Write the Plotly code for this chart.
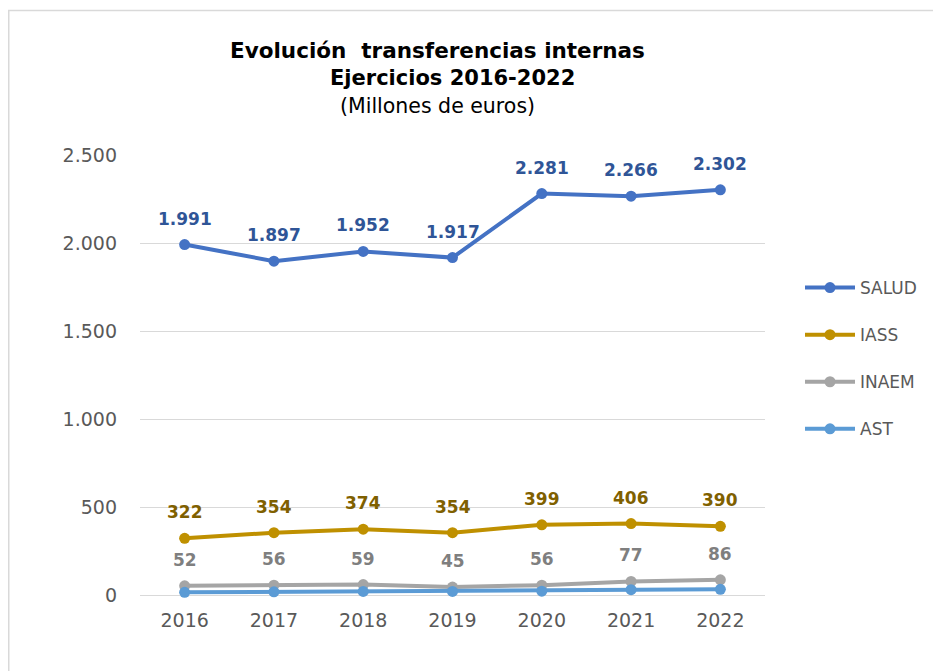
import plotly.graph_objects as go

years = ["2016", "2017", "2018", "2019", "2020", "2021", "2022"]
salud = [1991, 1897, 1952, 1917, 2281, 2266, 2302]
iass = [322, 354, 374, 354, 399, 406, 390]
inaem = [52, 56, 59, 45, 56, 77, 86]
ast = [15, 18, 20, 20, 22, 30, 32]

series = [
    ("SALUD", salud, "#4472C4", "#2F5597", True),
    ("IASS", iass, "#BF9000", "#7F6000", True),
    ("INAEM", inaem, "#A5A5A5", "#7F7F7F", True),
    ("AST", ast, "#5B9BD5", "#41719C", False),
]

FONT = "DejaVu Sans"
GRAY = "#595959"

# page has an 8px body margin; figure is sized so that page coords match the reference
W, H = 933, 663
L, T, R, B = 132, 147, 176, 76
pw, ph = W - L - R, H - T - B


def px(xp):  # reference page x -> paper x
    return (xp - 8 - L) / pw


def py(yp):  # reference page y -> paper y
    return (H - B - (yp - 8)) / ph


fig = go.Figure()
annotations = []
for name, vals, col, lcol, lab in series:
    fig.add_trace(go.Scatter(
        x=years, y=vals, name=name, mode="lines+markers",
        line=dict(color=col, width=4), marker=dict(color=col, size=11),
        legendgroup=name, cliponaxis=False,
    ))
    if lab:
        for i, yv in enumerate(vals):
            annotations.append(dict(
                x=i, y=yv, xref="x", yref="y",
                text="<b>%s</b>" % f"{yv:,}".replace(",", "."),
                showarrow=False, yshift=26, yanchor="middle",
                font=dict(family=FONT, size=17, color=lcol),
            ))

annotations += [
    dict(x=px(437), y=py(50), xref="paper", yref="paper", xanchor="center", yanchor="middle",
         text="<b>Evolución&nbsp; transferencias internas</b>",
         showarrow=False, font=dict(family=FONT, size=21.5, color="#000000")),
    dict(x=px(452), y=py(78), xref="paper", yref="paper", xanchor="center", yanchor="middle",
         text="<b>Ejercicios 2016-2022</b>",
         showarrow=False, font=dict(family=FONT, size=21, color="#000000")),
    dict(x=px(437), y=py(106), xref="paper", yref="paper", xanchor="center", yanchor="middle",
         text="(Millones de euros)",
         showarrow=False, font=dict(family=FONT, size=20.5, color="#000000")),
]

fig.update_layout(
    width=W, height=H,
    margin=dict(l=L, r=R, t=T, b=B),
    paper_bgcolor="white", plot_bgcolor="white",
    separators=",.",
    font=dict(family=FONT, color=GRAY, size=18),
    xaxis=dict(type="category", range=[-0.5, 6.5], showgrid=False, showline=False, ticks="",
               tickfont=dict(size=19, color=GRAY), ticklabelstandoff=12),
    yaxis=dict(range=[0, 2500], dtick=500, tickformat=",d", showgrid=True, gridcolor="#D9D9D9",
               gridwidth=1, zeroline=True, zerolinecolor="#D9D9D9", zerolinewidth=1,
               ticks="", tickfont=dict(size=19, color=GRAY), ticklabelstandoff=22),
    legend=dict(x=px(800), y=py(270), xanchor="left", yanchor="top", traceorder="grouped",
                tracegroupgap=22, font=dict(size=17, color=GRAY), itemwidth=50,
                bgcolor="rgba(0,0,0,0)"),
    showlegend=True,
    annotations=annotations,
)

fig.add_shape(type="rect", xref="paper", yref="paper",
              x0=(0.75 - L) / pw, y0=(H - B - 2.5) / ph, x1=(W + 50 - L) / pw, y1=-(B + 50) / ph,
              line=dict(color="#D9D9D9", width=1.5), fillcolor="rgba(0,0,0,0)", layer="below")

fig.write_html("out.html")
